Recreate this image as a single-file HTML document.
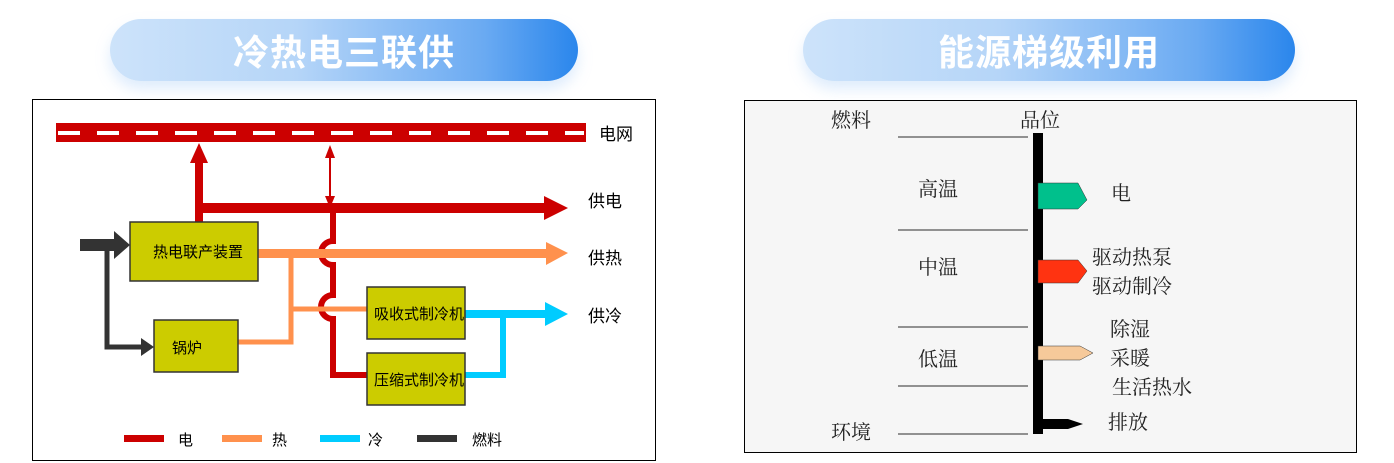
<!DOCTYPE html>
<html><head><meta charset="utf-8"><style>
body{margin:0;width:1394px;height:463px;background:#fff;overflow:hidden;font-family:"Liberation Sans","Noto Sans CJK SC",sans-serif}
.pill{position:absolute;top:19px;height:62px;border-radius:31px;background:linear-gradient(90deg,#cde3fa 0%,#b5d5f8 40%,#6aaaf2 80%,#2a86ec 100%);color:#fff;font-weight:bold;font-size:36px;display:flex;align-items:center;justify-content:center;box-shadow:0 8px 14px rgba(160,200,245,.35);letter-spacing:1px}
</style></head><body>
<div class="pill" style="left:110px;width:468px">冷热电三联供</div>
<div class="pill" style="left:803px;width:492px">能源梯级利用</div>
<svg width="1394" height="463" style="position:absolute;left:0;top:0" font-family="Liberation Sans, Noto Sans CJK SC, sans-serif">
<rect x="32.5" y="99.5" width="623" height="361" fill="#fff" stroke="#000"/>
<rect x="56" y="123" width="530" height="19" fill="#cc0000"/>
<line x1="58" y1="133" x2="584" y2="133" stroke="#fff" stroke-width="4" stroke-dasharray="22 17"/>
<text x="599" y="140" font-size="17">电网</text>
<rect x="195" y="160" width="8" height="62" fill="#cc0000"/>
<polygon points="190,163 199,143 208,163" fill="#cc0000"/>
<rect x="195" y="203" width="350" height="10" fill="#cc0000"/>
<polygon points="544,196 568,208 544,220" fill="#cc0000"/>
<line x1="330" y1="152" x2="330" y2="202" stroke="#cc0000" stroke-width="2"/>
<polygon points="325,158 330,145 335,158" fill="#cc0000"/>
<polygon points="325,196 330,208 335,196" fill="#cc0000"/>
<path d="M333,208 V241 A12,12 0 0 0 333,265 V295 A12,12 0 0 0 333,319 V375 H367" fill="none" stroke="#cc0000" stroke-width="6"/>
<text x="588" y="207" font-size="17">供电</text>
<rect x="258" y="249" width="290" height="9" fill="#ff914d"/>
<polygon points="546,242 568,253 546,265" fill="#ff914d"/>
<path d="M238,342 H291 V254 M291,309 H367" fill="none" stroke="#ff914d" stroke-width="5"/>
<text x="588" y="264" font-size="17">供热</text>
<rect x="465" y="310" width="82" height="8" fill="#00ccff"/>
<polygon points="545,302 568,314 545,326" fill="#00ccff"/>
<path d="M465,375 H503 V314" fill="none" stroke="#00ccff" stroke-width="6"/>
<text x="588" y="322" font-size="17">供冷</text>
<rect x="80" y="239" width="40" height="12" fill="#333"/>
<polygon points="114,231 130,245 114,259" fill="#333"/>
<path d="M107,245 V347 H142" fill="none" stroke="#333" stroke-width="5"/>
<polygon points="141,338 154,347 141,356" fill="#333"/>
<g fill="#cccc00" stroke="#333" stroke-width="1.5">
<rect x="130" y="222" width="128" height="59"/>
<rect x="154" y="320" width="84" height="52"/>
<rect x="367" y="287" width="98" height="52"/>
<rect x="367" y="353" width="98" height="52"/>
</g>
<g font-size="15" fill="#000">
<text x="153" y="257">热电联产装置</text>
<text x="172" y="353">锅炉</text>
<text x="374" y="319">吸收式制冷机</text>
<text x="374" y="385">压缩式制冷机</text>
</g>
<rect x="124" y="435" width="40" height="7" fill="#cc0000"/><text x="178" y="445" font-size="15">电</text>
<rect x="222" y="435" width="40" height="7" fill="#ff914d"/><text x="272" y="445" font-size="15">热</text>
<rect x="320" y="435" width="40" height="7" fill="#00ccff"/><text x="368" y="445" font-size="15">冷</text>
<rect x="417" y="435" width="40" height="7" fill="#333"/><text x="472" y="445" font-size="15">燃料</text>

<rect x="744.5" y="100.5" width="612" height="352" fill="#f6f6f6" stroke="#000"/>
<g stroke="#555" stroke-width="1.2">
<line x1="898" y1="137" x2="1028" y2="137"/>
<line x1="898" y1="230" x2="1028" y2="230"/>
<line x1="898" y1="327" x2="1028" y2="327"/>
<line x1="898" y1="386" x2="1028" y2="386"/>
<line x1="898" y1="434" x2="1028" y2="434"/>
</g>
<rect x="1033" y="133" width="10" height="301" fill="#000"/>
<polygon points="1038,183 1078,183 1087,200 1078,209 1038,209" fill="#00c08c" stroke="#333" stroke-width="0.5"/>
<polygon points="1038,260 1078,260 1087,271 1078,283 1038,283" fill="#ff3311" stroke="#333" stroke-width="0.5"/>
<polygon points="1038,346 1080,346 1093,353 1080,360 1038,360" fill="#f6c99a" stroke="#333" stroke-width="0.5"/>
<polygon points="1043,419 1068,419 1083,424 1068,429 1043,429" fill="#000"/>
<g font-size="20" fill="#222" font-family="Liberation Serif, Noto Serif CJK SC, serif">
<text x="831" y="127">燃料</text>
<text x="1020" y="127">品位</text>
<text x="918" y="196">高温</text>
<text x="918" y="274">中温</text>
<text x="918" y="366">低温</text>
<text x="831" y="439">环境</text>
<text x="1111" y="200">电</text>
<text x="1092" y="264">驱动热泵</text>
<text x="1092" y="293">驱动制冷</text>
<text x="1110" y="336">除湿</text>
<text x="1110" y="365">采暖</text>
<text x="1112" y="394">生活热水</text>
<text x="1108" y="429">排放</text>
</g>
</svg>
</body></html>
